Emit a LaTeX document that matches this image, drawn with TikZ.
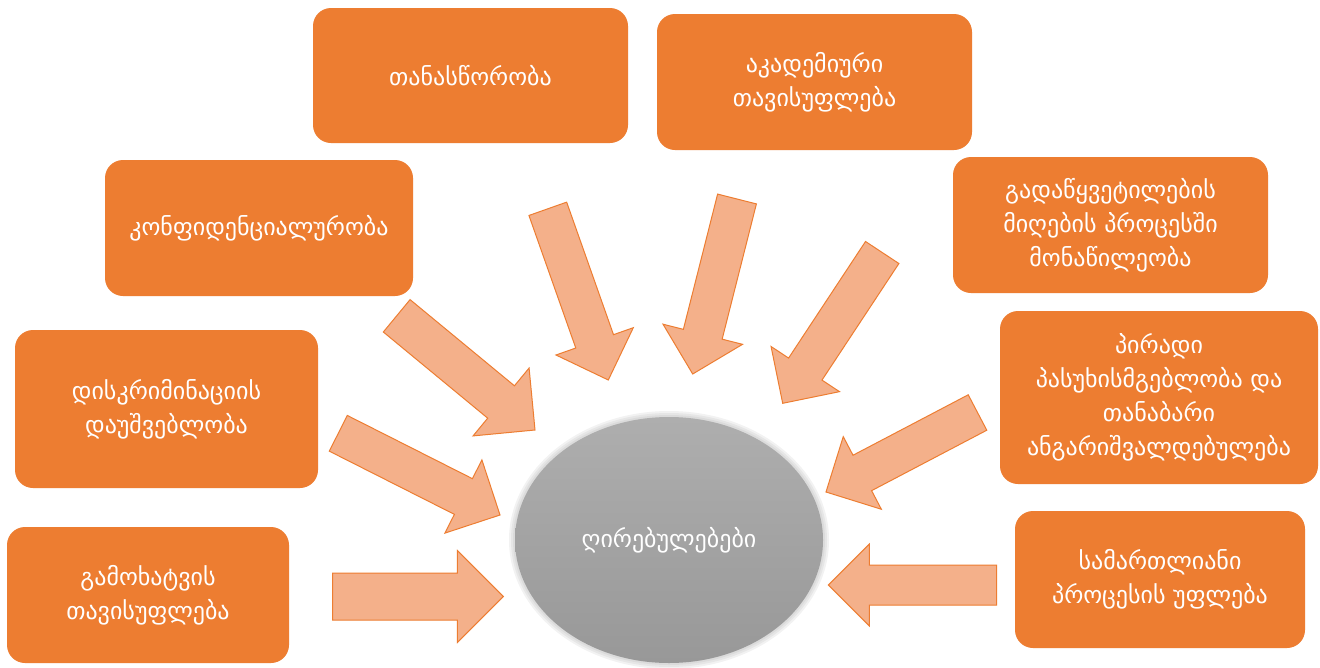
\documentclass[tikz,border=0pt]{standalone}
\usepackage{fontspec}
\setmainfont{DejaVu Sans}
\usetikzlibrary{calc,shapes.geometric}
\definecolor{boxorange}{HTML}{ED7D31}
\definecolor{arrowfill}{HTML}{F4B08A}
\tikzset{
  valbox/.style={fill=boxorange, rounded corners=18pt, text=white, align=center, inner sep=0pt,
    font=\fontsize{24}{34}\selectfont},
  flowarrow/.style={fill=arrowfill, draw=boxorange, line width=1pt, line join=miter},
  core/.style={ellipse, minimum width=308pt, minimum height=246pt, inner sep=0pt,
    top color={rgb,255:red,174;green,174;blue,174}, bottom color={rgb,255:red,152;green,152;blue,152},
    text=white, font=\fontsize{24}{34}\selectfont}
}
% block arrow: tail, tip, shaft half width, head half width, head length
\newcommand\valarrow[5]{%
  \coordinate (hb) at ($(#2)!#5!(#1)$);
  \draw[flowarrow] ($(#1)!#3!90:(#2)$) -- ($(hb)!#3!90:(#2)$) -- ($(hb)!#4!90:(#2)$) -- (#2)
    -- ($(hb)!#4!-90:(#2)$) -- ($(hb)!#3!-90:(#2)$) -- ($(#1)!#3!-90:(#2)$) -- cycle;
}
\begin{document}
\begin{tikzpicture}[x=1pt,y=-1pt]
  \fill[white] (0,0) rectangle (1320,667);
  \useasboundingbox (0,0) rectangle (1320,667);
  % values
  \node[valbox, minimum width=315pt, minimum height=135pt] (b1) at (470.5,75.5) {თანასწორობა};
  \node[valbox, minimum width=315pt, minimum height=136pt] (b2) at (814.5,82) {აკადემიური\\თავისუფლება};
  \node[valbox, minimum width=308pt, minimum height=136pt] (b3) at (259,228) {კონფიდენციალურობა};
  \node[valbox, minimum width=315pt, minimum height=136pt] (b4) at (1110.5,225)
    {გადაწყვეტილების\\მიღების პროცესში\\მონაწილეობა};
  \node[valbox, minimum width=303pt, minimum height=158pt] (b5) at (166.5,409) {დისკრიმინაციის\\დაუშვებლობა};
  \node[valbox, minimum width=318pt, minimum height=173pt] (b6) at (1159,397.5)
    {პირადი\\პასუხისმგებლობა და\\თანაბარი\\ანგარიშვალდებულება};
  \node[valbox, minimum width=282pt, minimum height=136pt] (b7) at (148,595) {გამოხატვის\\თავისუფლება};
  \node[valbox, minimum width=290pt, minimum height=137pt] (b8) at (1160,579.5) {სამართლიანი\\პროცესის უფლება};
  % soft edge of the centre
  \foreach \r in {6,4,2}
    \fill[gray, opacity=0.1] (669,540) ellipse ({154+\r} and {123+\r});
  \node[core] (core) at (669,540) {ღირებულებები};
  % arrows
  \coordinate (t7) at (332.7,596.5); \coordinate (p7) at (503.3,596.5);
  \valarrow{t7}{p7}{23.5pt}{46pt}{46pt}
  \coordinate (t3) at (396.7,315.8); \coordinate (p3) at (535,430);
  \valarrow{t3}{p3}{21pt}{44pt}{44pt}
  \foreach \n/\tx/\ty/\px/\py in {5/338.3/433.3/500/515, 1/547.8/208.8/608.3/380,
      2/737/199/692.7/374, 4/882.2/252.5/782.7/403.3, 6/977.5/412.5/826/492,
      8/996.7/585/828.3/585}{
    \coordinate (t\n) at (\tx,\ty); \coordinate (p\n) at (\px,\py);
    \valarrow{t\n}{p\n}{20pt}{41pt}{41pt}
  }
\end{tikzpicture}
\end{document}
